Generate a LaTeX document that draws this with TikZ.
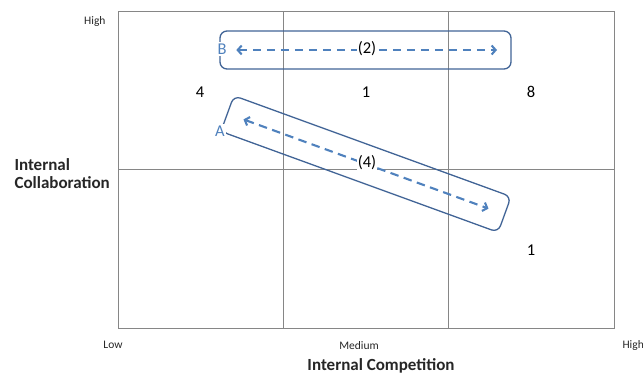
\documentclass[tikz,border=0pt]{standalone}
\usepackage{fontspec}
\setmainfont{Carlito}
\usetikzlibrary{arrows.meta,calc}
\definecolor{gridgray}{RGB}{134,134,134}
\definecolor{boxblue}{RGB}{65,100,150}
\definecolor{arrblue}{RGB}{79,129,189}
\tikzset{
  gridline/.style={draw=gridgray,line width=0.9pt},
  pathbox/.style={draw=boxblue,line width=1.3pt,rounded corners=7pt,minimum width=#1,minimum height=38pt,inner sep=0pt},
  pathbox/.default=291pt,
  movearrow/.style={draw=arrblue,line width=2.1pt,dash pattern=on 8.5pt off 5.5pt,{Straight Barb[length=4pt,width=9pt]}-{Straight Barb[length=4pt,width=9pt]}},
  steplabel/.style={fill=white,inner sep=1pt,font=\fontsize{16.5}{18}\selectfont,text=black},
  letterlabel/.style={fill=white,inner sep=1.5pt,font=\fontsize{16.5}{18}\selectfont,text=arrblue},
  countlabel/.style={font=\fontsize{16.5}{18}\selectfont},
  axislabel/.style={font=\fontsize{11.5}{13}\selectfont,text=black!85},
  axistitle/.style={font=\bfseries\fontsize{17}{19}\selectfont,text=black!85}
}
\begin{document}
\begin{tikzpicture}[x=1pt,y=-1pt]
\useasboundingbox (0,0) rectangle (643,376);
% grid
\draw[gridline] (118,11) rectangle (614,328);
\draw[gridline] (283,11) -- (283,328);
\draw[gridline] (448,11) -- (448,328);
\draw[gridline] (118,169) -- (614,169);
% axis labels
\node[axislabel,anchor=east] (yhigh) at (109,21) {High};
\node[axislabel] (xlow) at (113,345) {Low};
\node[axislabel] (xmed) at (359,346) {Medium};
\node[axislabel,anchor=west] (xhigh) at (619,345) {High};
\node[axistitle,anchor=base,inner sep=0pt] (xtitle) at (381,370) {Internal Competition};
\node[axistitle,anchor=west,align=left] (ytitle) at (11,174) {Internal\\[-1pt]Collaboration};
% counts
\node[countlabel] (c1) at (200,92) {4};
\node[countlabel] (c2) at (366,92) {1};
\node[countlabel] (c3) at (531,92) {8};
\node[countlabel] (c4) at (531,250) {1};
% box B
\node[pathbox=291pt] (boxB) at (365.5,50) {};
\draw[movearrow] ($(boxB.west)!0.058!(boxB.east)$) coordinate (bl) -- ($(boxB.west)!0.95!(boxB.east)$) coordinate (br);
\node[steplabel] (s2) at (367,49) {(2)};
\node[letterlabel] (lB) at (222,49) {B};
% box A
\node[pathbox=295pt,rotate=-20] (boxA) at (366,164) {};
\draw[movearrow] ($(boxA.west)!0.06!(boxA.east)$) coordinate (al) -- ($(boxA.west)!0.94!(boxA.east)$) coordinate (ar);
\node[steplabel] (s4) at (367,163) {(4)};
\node[letterlabel] (lA) at (220,131) {A};
\end{tikzpicture}
\end{document}
